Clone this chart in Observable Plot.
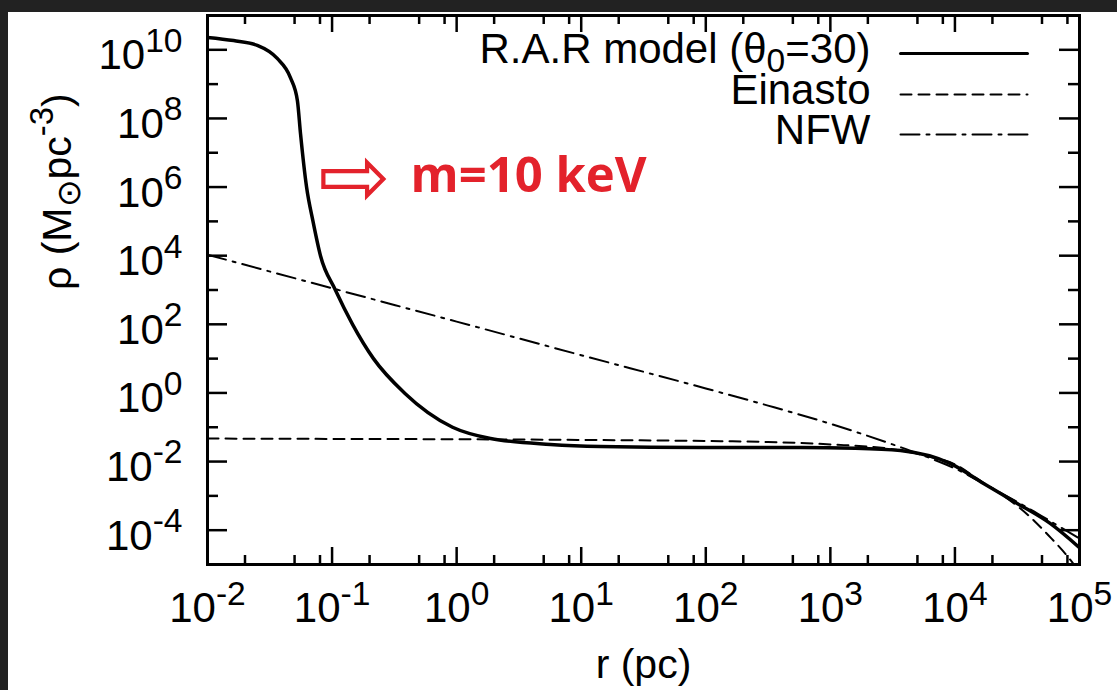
<!DOCTYPE html>
<html><head><meta charset="utf-8">
<script src="https://cdn.jsdelivr.net/npm/d3@7"></script>
<script src="https://cdn.jsdelivr.net/npm/@observablehq/plot@0.6"></script>
<style>
html,body{margin:0;padding:0;background:#fff;width:1117px;height:690px;overflow:hidden;}
#band-top{position:absolute;left:0;top:0;width:1117px;height:12px;background:#222;z-index:2}
#band-left{position:absolute;left:0;top:0;width:8px;height:690px;background:#222;z-index:2}
#chart{position:absolute;left:0;top:0;}
</style></head><body>
<div id="band-top"></div><div id="band-left"></div><div id="chart"></div>
<script>
// ---- data (r in pc, rho in Msun pc^-3) ----
const rarR   = [0.01, 0.0162, 0.0251, 0.0363, 0.0463, 0.0527, 0.0558, 0.0624, 0.0703, 0.0807, 0.1063, 0.146, 0.215, 0.381, 0.927, 1.87, 5.66, 14.3, 90.8, 575, 1585, 3656, 9226, 16980, 31620, 58480, 100000];
const rarRho = [2.3e10, 1.86e10, 1.35e10, 5.6e9, 1.55e9, 3.3e8, 3.6e7, 1.0e6, 1.0e5, 1.0e4, 1.0e3, 100, 10, 1.0, 0.1, 0.047, 0.0316, 0.0275, 0.0257, 0.0257, 0.0245, 0.0209, 0.0087, 0.00229, 6.03e-4, 1.55e-4, 3.1e-5];

const einR   = [0.01, 0.1, 1, 10, 100, 316, 1000, 3162, 6310, 10000, 15850, 25120, 39810, 56230, 79430, 100000];
const einRho = [0.0468, 0.0457, 0.0447, 0.0427, 0.0398, 0.0372, 0.0316, 0.0229, 0.0138, 0.0083, 0.00282, 9.5e-4, 2.5e-4, 7.1e-5, 1.8e-5, 6e-6];

const nfwR   = [0.01, 0.1, 1, 10, 100, 316, 1000, 3162, 6310, 10000, 19950, 39810, 70800, 100000];
const nfwRho = [1.07e4, 1122, 120, 12.6, 1.35, 0.427, 0.126, 0.0316, 0.0126, 0.0063, 0.00166, 4.17e-4, 1.2e-4, 5.75e-5];

const xMajor = [1e-2, 1e-1, 1, 10, 100, 1e3, 1e4, 1e5];
const xMinor = [0.02,0.05,0.08, 0.2,0.5,0.8, 2,5,8, 20,50,80, 200,500,800, 2000,5000,8000, 20000,50000,80000];
const yMajor = [1e-4, 1e-2, 1, 1e2, 1e4, 1e6, 1e8, 1e10];
const yMinor = [1e-3, 1e-1, 10, 1e3, 1e5, 1e7, 1e9];

const legendLabels = ["R.A.R model (θ_{0}=30)", "Einasto", "NFW"];
const xLabel = "r (pc)";
const yLabel = "ρ (M_{⊙}pc^{-3})";
const annotation = [{r: 0.151, rho: 2.0e6, arrow: "⇨", label: "m=10 keV", r2: 0.4265}];

// ---- layout ----
const W = 1117, H = 690, mL = 207, mR = 38, mT = 15, mB = 126;
const plotW = W - mL - mR, plotH = H - mT - mB;
const red = "#e3222b";
const rows = (xs, ys) => xs.map((r, i) => ({r, rho: ys[i]}));
const expFmt = d => `10^{${Math.round(Math.log10(d))}}`;
const segShape = {draw(ctx, l) { ctx.moveTo(0, 0); ctx.lineTo(0, -l); }};
const legendLine = (dy, dash, sw) => Plot.vector([0], {frameAnchor: "top-right", dx: -179, dy, length: 127, rotate: 90, anchor: "start", shape: segShape, stroke: "black", strokeWidth: sw, strokeDasharray: dash});
const legendText = (label, dy) => Plot.text([label], {frameAnchor: "top-right", lineAnchor: "middle", dx: -209, dy, textAnchor: "end", fontSize: 42, text: d => d});

const chart = Plot.plot({
  width: W, height: H, marginLeft: mL, marginRight: mR, marginTop: mT, marginBottom: mB,
  style: {fontFamily: "'Liberation Sans', Arial, sans-serif", fontSize: "40px", background: "transparent", color: "black", overflow: "visible"},
  x: {type: "log", domain: [1e-2, 1e5], axis: null},
  y: {type: "log", domain: [1e-5, 1e11], axis: null},
  marks: [
    // ticks (inward, mirrored)
    Plot.ruleX(xMajor, {insetTop: plotH - 17, strokeWidth: 2.5}),
    Plot.ruleX(xMinor, {insetTop: plotH - 9, strokeWidth: 2.5}),
    Plot.ruleX(xMajor, {insetBottom: plotH - 17, strokeWidth: 2.5}),
    Plot.ruleX(xMinor, {insetBottom: plotH - 9, strokeWidth: 2.5}),
    Plot.ruleY(yMajor, {insetRight: plotW - 20, strokeWidth: 2.5}),
    Plot.ruleY(yMinor, {insetRight: plotW - 11, strokeWidth: 2.5}),
    Plot.ruleY(yMajor, {insetLeft: plotW - 20, strokeWidth: 2.5}),
    Plot.ruleY(yMinor, {insetLeft: plotW - 11, strokeWidth: 2.5}),
    // tick labels
    Plot.axisX({ticks: xMajor, anchor: "bottom", tickSize: 0, tickPadding: 28, tickFormat: expFmt, fontSize: 42, label: null}),
    Plot.axisY({ticks: yMajor, anchor: "left", tickSize: 0, tickPadding: 25, tickFormat: expFmt, fontSize: 42, dy: 6, label: null}),
    // curves
    Plot.line(rows(einR, einRho), {x: "r", y: "rho", stroke: "black", strokeWidth: 2, strokeDasharray: "11,7", clip: true, curve: "monotone-x"}),
    Plot.line(rows(nfwR, nfwRho), {x: "r", y: "rho", stroke: "black", strokeWidth: 2, strokeDasharray: "19,7,3,7", clip: true, curve: "monotone-x"}),
    Plot.line(rows(rarR, rarRho), {x: "r", y: "rho", stroke: "black", strokeWidth: 3.5, clip: true, curve: "monotone-x"}),
    Plot.frame({stroke: "black", strokeWidth: 3}),
    // legend
    legendText(legendLabels[0], 34),
    legendText(legendLabels[1], 75),
    legendText(legendLabels[2], 115),
    legendLine(38, null, 3),
    legendLine(79, "11,7", 2),
    legendLine(119, "19,7,3,7", 2),
    // axis titles
    Plot.text([xLabel], {frameAnchor: "bottom", lineAnchor: "middle", dy: 100, fontSize: 41, text: d => d}),
    Plot.text([yLabel], {frameAnchor: "left", lineAnchor: "middle", dx: -150, rotate: -90, fontSize: 41, text: d => d}),
    // annotation
    Plot.text(annotation, {x: "r", y: "rho", text: "arrow", fill: red, fontSize: 86, fontFamily: "DejaVu Sans", dy: 2}),
    Plot.text(annotation, {x: "r2", y: "rho", text: "label", fill: red, fontSize: 49, fontWeight: "bold", fontFamily: "'Open Sans', sans-serif", textAnchor: "start"})
  ]
});
document.getElementById("chart").appendChild(chart);

// ---- super/subscript markup: ^{..} and _{..} ----
const NS = "http://www.w3.org/2000/svg";
chart.querySelectorAll("text").forEach(el => {
  const s = el.textContent;
  if (!/[\^_]\{/.test(s)) return;
  const fs = parseFloat(getComputedStyle(el).fontSize) || 40;
  el.textContent = "";
  const re = /([\^_])\{([^}]*)\}|([^\^_]+)/g;
  let shift = 0, m;
  while ((m = re.exec(s))) {
    const t = document.createElementNS(NS, "tspan");
    let target = 0, size = null;
    if (m[3] !== undefined) { t.textContent = m[3]; }
    else if (m[1] === "^") { target = 0.42 * fs; size = 0.8 * fs; t.textContent = m[2]; }
    else { target = -0.22 * fs; size = 0.8 * fs; t.textContent = m[2]; }
    const d = target - shift;
    if (d) t.setAttribute("dy", -d);
    if (size) t.setAttribute("font-size", size);
    shift = target;
    el.appendChild(t);
  }
});
</script>
</body></html>
